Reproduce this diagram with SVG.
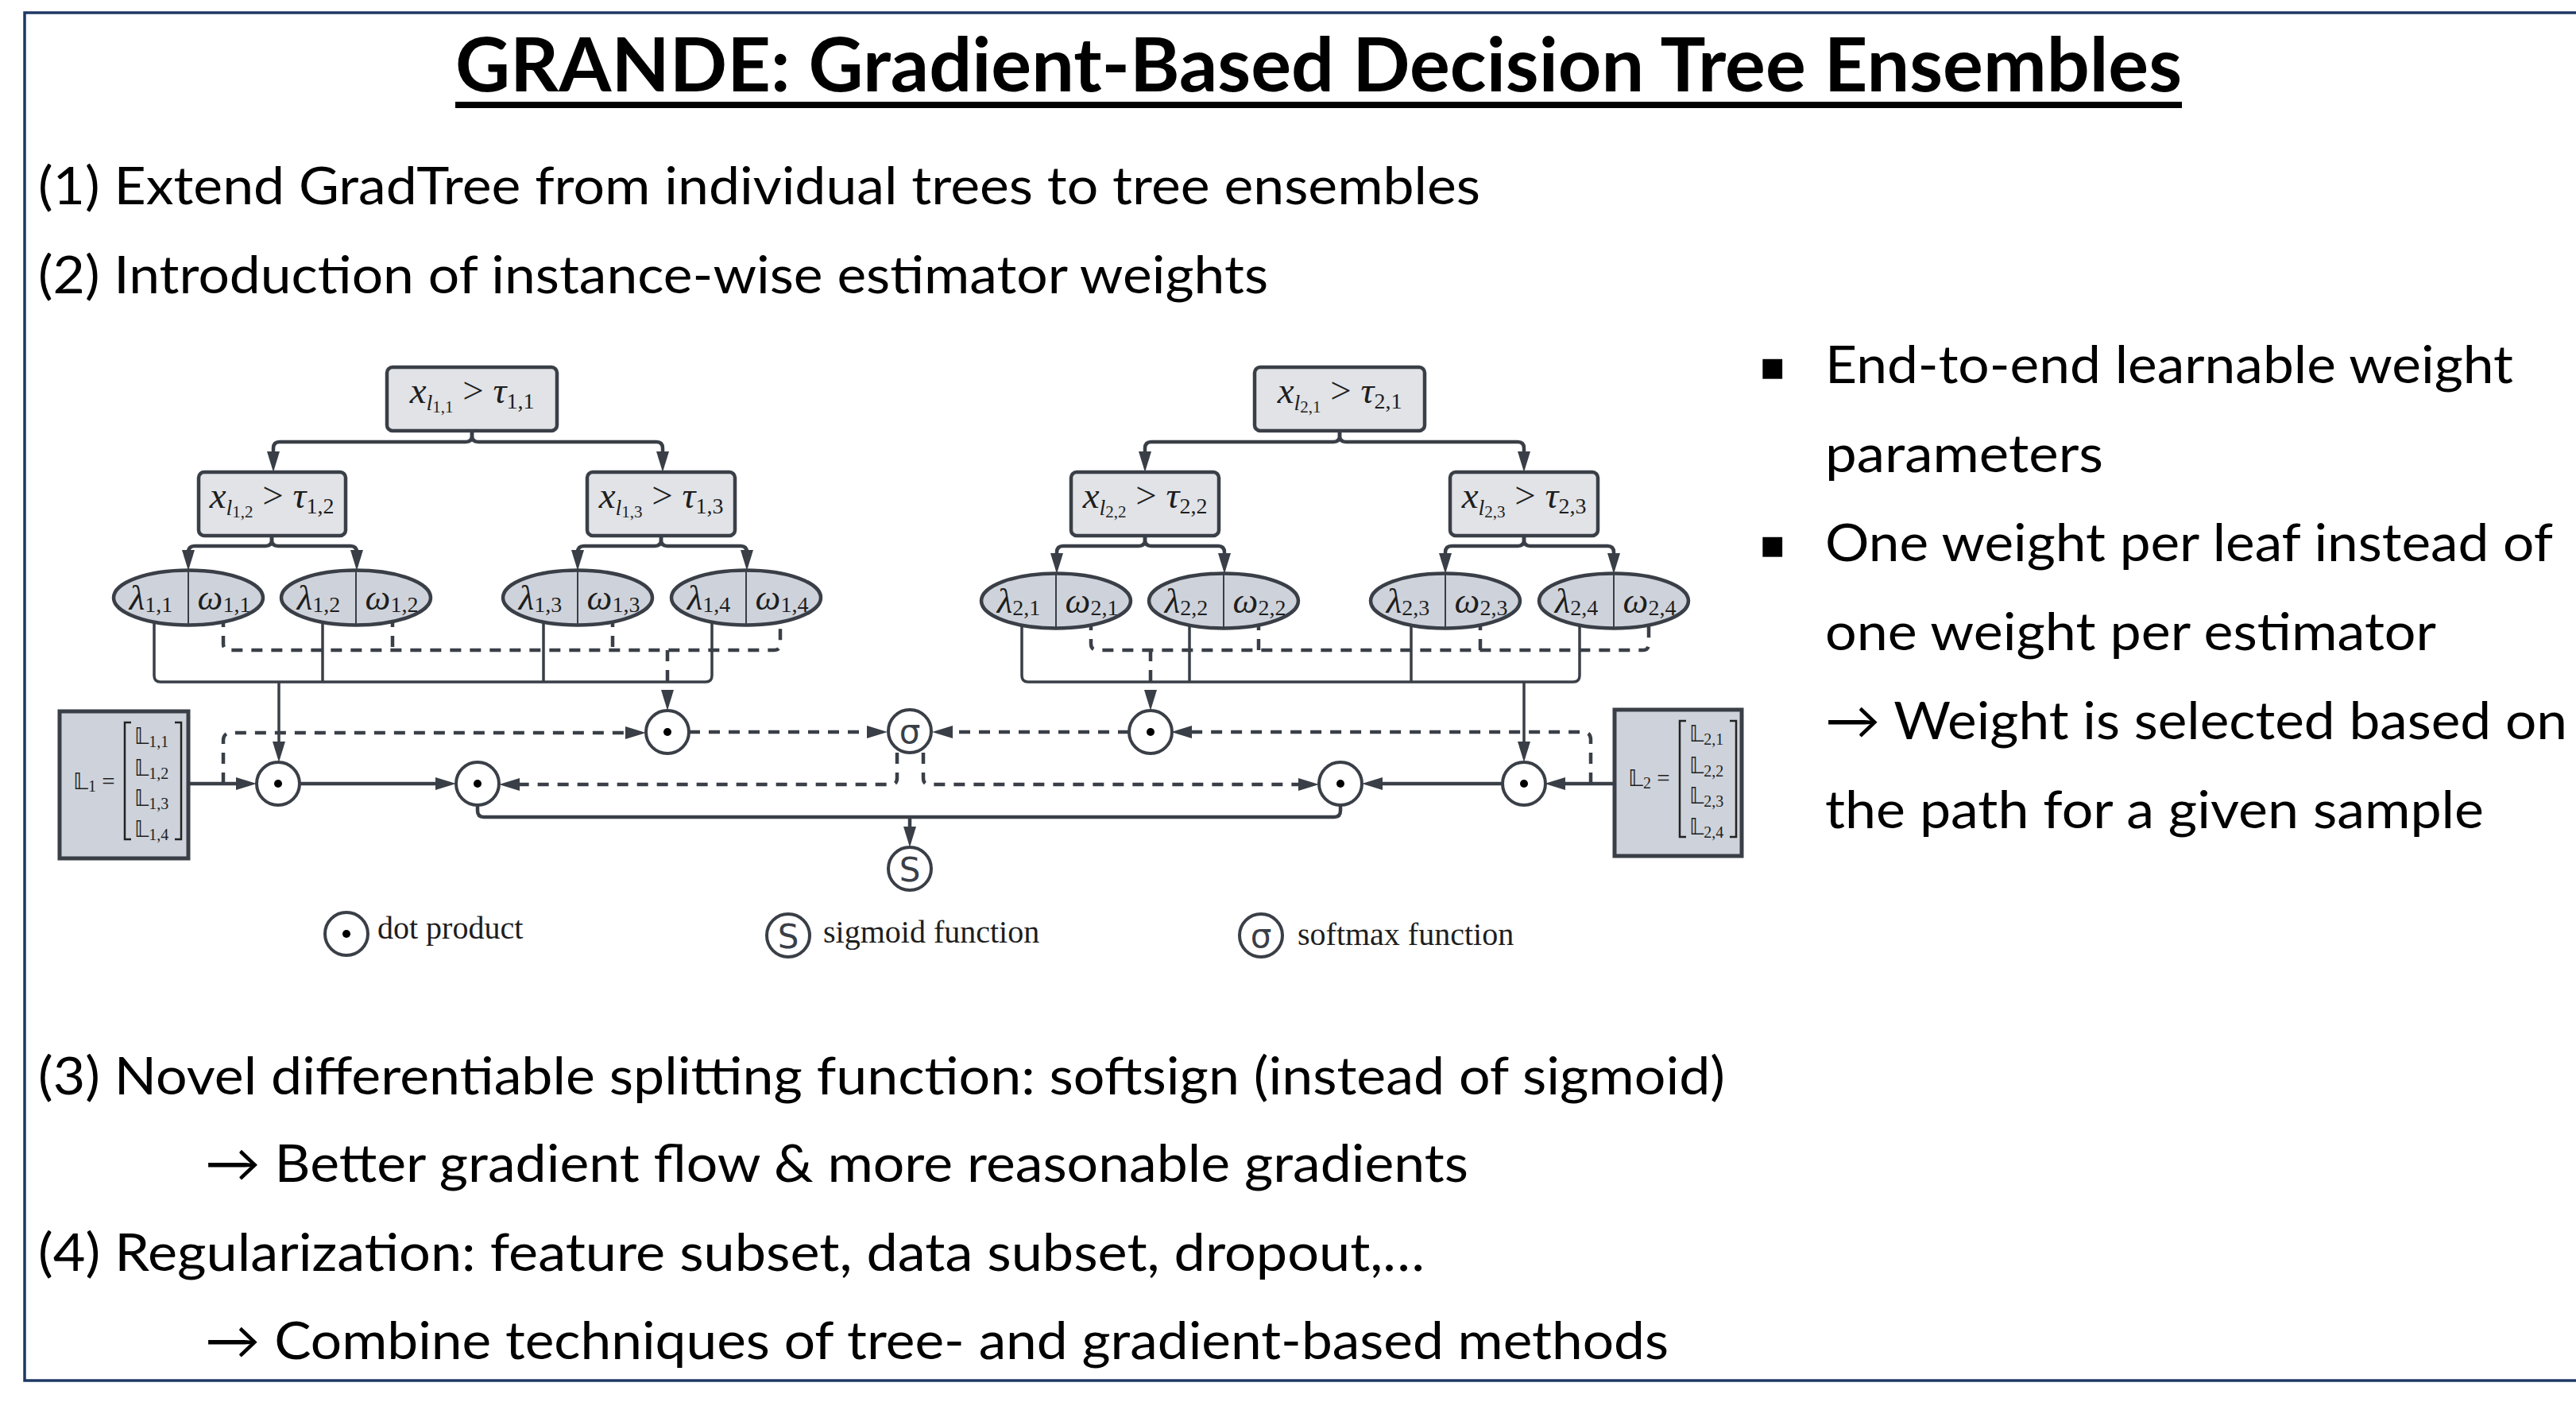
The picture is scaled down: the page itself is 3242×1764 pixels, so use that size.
<svg xmlns="http://www.w3.org/2000/svg" width="3242" height="1764" viewBox="0 0 3242 1764">
<style>
.b{font-family:Lato,"Open Sans","DejaVu Sans",sans-serif;font-size:66px;fill:#000}
.t{font-family:Lato,"Open Sans","DejaVu Sans",sans-serif;font-size:94px;font-weight:700;fill:#000}
.m{font-family:"Liberation Serif","DejaVu Serif",serif;fill:#1e1e1e}
.i{font-style:italic}
.bx{fill:#e1e3e7;stroke:#3a3f47;stroke-width:4.5}
.lf{fill:#ced3db;stroke:#3a3f47;stroke-width:4.5}
.dv{stroke:#3a3f47;stroke-width:2}
.lb{fill:#ced3db;stroke:#3a3f47;stroke-width:5}
.op{fill:#fff;stroke:#3a3f47;stroke-width:4}
.sy{font-family:"DejaVu Sans","Liberation Sans",sans-serif;font-size:42px;fill:#3a3f47}
.ln{fill:none;stroke:#3a3f47;stroke-width:4.5}
.th{fill:none;stroke:#3a3f47;stroke-width:3.5}
.da{fill:none;stroke:#3a3f47;stroke-width:4.5;stroke-dasharray:14 11}
.br{fill:none;stroke:#222;stroke-width:2.5}
.bl{font-family:"DejaVu Sans",sans-serif;font-size:50px;fill:#000}
.dd{font-family:"DejaVu Sans",sans-serif}
</style>
<defs>
<marker id="ah" viewBox="0 0 26 16" refX="16" refY="8" markerWidth="26" markerHeight="16" markerUnits="userSpaceOnUse" orient="auto"><path d="M0,0 L26,8 L0,16 z" fill="#3a3f47"/></marker>
</defs>

<rect x="31" y="16" width="3300" height="1721" fill="none" stroke="#1f3864" stroke-width="3.5"/>

<g id="title">
<text class="t" x="573" y="115" textLength="2173" lengthAdjust="spacingAndGlyphs">GRANDE: Gradient-Based Decision Tree Ensembles</text>
<rect x="573" y="128" width="2173" height="8" fill="#000"/>
</g>

<g id="left-text">
<text class="b" x="48" y="257" textLength="1815" lengthAdjust="spacingAndGlyphs">(1) Extend GradTree from individual trees to tree ensembles</text>
<text class="b" x="48" y="369" textLength="1548" lengthAdjust="spacingAndGlyphs">(2) Introduction of instance-wise estimator weights</text>
<text class="b" x="48" y="1377" textLength="2123" lengthAdjust="spacingAndGlyphs">(3) Novel differentiable splitting function: softsign (instead of sigmoid)</text>
<text class="b" x="258" y="1487" textLength="1590" lengthAdjust="spacingAndGlyphs">→ Better gradient flow &amp; more reasonable gradients</text>
<text class="b" x="48" y="1599" textLength="1745" lengthAdjust="spacingAndGlyphs">(4) Regularization: feature subset, data subset, dropout,…</text>
<text class="b" x="258" y="1710" textLength="1842" lengthAdjust="spacingAndGlyphs">→ Combine techniques of tree- and gradient-based methods</text>
</g>

<g id="right-text">
<text class="bl" x="2214" y="477">▪</text>
<text class="b" x="2297" y="482" textLength="866" lengthAdjust="spacingAndGlyphs">End-to-end learnable weight</text>
<text class="b" x="2297" y="594" textLength="350" lengthAdjust="spacingAndGlyphs">parameters</text>
<text class="bl" x="2214" y="701">▪</text>
<text class="b" x="2297" y="706" textLength="916" lengthAdjust="spacingAndGlyphs">One weight per leaf instead of</text>
<text class="b" x="2297" y="818" textLength="769" lengthAdjust="spacingAndGlyphs">one weight per estimator</text>
<text class="b" x="2297" y="930" textLength="934" lengthAdjust="spacingAndGlyphs">→ Weight is selected based on</text>
<text class="b" x="2297" y="1042" textLength="829" lengthAdjust="spacingAndGlyphs">the path for a given sample</text>
</g>

<g id="connectors">
<path class="ln" marker-end="url(#ah)" d="M594,542 V548 Q594,556 586,556 H352 Q344,556 344,564 V584"/>
<path class="ln" marker-end="url(#ah)" d="M594,542 V548 Q594,556 602,556 H826 Q834,556 834,564 V584"/>
<path class="ln" marker-end="url(#ah)" d="M342,674 V679 Q342,687 334,687 H245 Q237,687 237,695 V708"/>
<path class="ln" marker-end="url(#ah)" d="M342,674 V679 Q342,687 350,687 H441 Q449,687 449,695 V708"/>
<path class="ln" marker-end="url(#ah)" d="M832,674 V679 Q832,687 824,687 H735 Q727,687 727,695 V708"/>
<path class="ln" marker-end="url(#ah)" d="M832,674 V679 Q832,687 840,687 H932 Q940,687 940,695 V708"/>
<path class="ln" marker-end="url(#ah)" d="M1686,542 V548 Q1686,556 1678,556 H1449 Q1441,556 1441,564 V584"/>
<path class="ln" marker-end="url(#ah)" d="M1686,542 V548 Q1686,556 1694,556 H1910 Q1918,556 1918,564 V584"/>
<path class="ln" marker-end="url(#ah)" d="M1441,674 V679 Q1441,687 1433,687 H1338 Q1330,687 1330,695 V712"/>
<path class="ln" marker-end="url(#ah)" d="M1441,674 V679 Q1441,687 1449,687 H1533 Q1541,687 1541,695 V712"/>
<path class="ln" marker-end="url(#ah)" d="M1918,674 V679 Q1918,687 1910,687 H1827 Q1819,687 1819,695 V712"/>
<path class="ln" marker-end="url(#ah)" d="M1918,674 V679 Q1918,687 1926,687 H2023 Q2031,687 2031,695 V712"/>
<path class="th" d="M194,775 V850 Q194,858 202,858 H888 Q896,858 896,850 V775"/>
<path class="th" d="M406,775 V858 M684,775 V858"/>
<path class="th" marker-end="url(#ah)" d="M351,858 V949"/>
<path class="th" d="M1286,779 V850 Q1286,858 1294,858 H1980 Q1988,858 1988,850 V779"/>
<path class="th" d="M1497,779 V858 M1776,779 V858"/>
<path class="th" marker-end="url(#ah)" d="M1918,858 V949"/>
<path class="da" d="M281,775 V810 Q281,818 289,818 H974 Q982,818 982,810 V775"/>
<path class="da" d="M494,775 V818 M771,775 V818"/>
<path class="da" marker-end="url(#ah)" d="M840,818 V884"/>
<path class="da" d="M1373,779 V810 Q1373,818 1381,818 H2067 Q2075,818 2075,810 V779"/>
<path class="da" d="M1584,779 V818 M1863,779 V818"/>
<path class="da" marker-end="url(#ah)" d="M1448,818 V884"/>
<path class="ln" marker-end="url(#ah)" d="M237,986 H313"/>
<path class="da" marker-end="url(#ah)" d="M281,986 V932 Q281,922 291,922 H803"/>
<path class="da" marker-end="url(#ah)" d="M867,921 H1107"/>
<path class="ln" marker-end="url(#ah)" d="M377,986 H564"/>
<path class="da" marker-end="url(#ah)" d="M1129,947 V979 Q1129,987 1121,987 H638"/>
<path class="ln" d="M601,1013 V1020 Q601,1028 609,1028 H1145"/>
<path class="ln" marker-end="url(#ah)" d="M2032,986 H1954"/>
<path class="da" marker-end="url(#ah)" d="M2002,986 V931 Q2002,921 1992,921 H1484"/>
<path class="da" marker-end="url(#ah)" d="M1421,921 H1183"/>
<path class="ln" marker-end="url(#ah)" d="M1891,986 H1724"/>
<path class="da" marker-end="url(#ah)" d="M1162,947 V979 Q1162,987 1170,987 H1650"/>
<path class="ln" d="M1687,1013 V1020 Q1687,1028 1679,1028 H1145"/>
<path class="ln" marker-end="url(#ah)" d="M1145,1028 V1056"/>
</g>

<g id="t1-root"><rect class="bx" x="487" y="462" width="214" height="80" rx="7"/>
<text class="m" x="594" y="507" text-anchor="middle" font-size="47"><tspan class="i">x</tspan><tspan class="i" font-size="28" dy="9">l</tspan><tspan font-size="21" dy="3">1,1</tspan><tspan dy="-12">  &gt; </tspan><tspan class="i">τ</tspan><tspan font-size="28" dy="7">1,1</tspan></text></g>
<g id="t1-n2"><rect class="bx" x="250" y="594" width="185" height="80" rx="7"/>
<text class="m" x="342" y="639" text-anchor="middle" font-size="47"><tspan class="i">x</tspan><tspan class="i" font-size="28" dy="9">l</tspan><tspan font-size="21" dy="3">1,2</tspan><tspan dy="-12"> &gt; </tspan><tspan class="i">τ</tspan><tspan font-size="28" dy="7">1,2</tspan></text></g>
<g id="t1-n3"><rect class="bx" x="739" y="594" width="186" height="80" rx="7"/>
<text class="m" x="832" y="639" text-anchor="middle" font-size="47"><tspan class="i">x</tspan><tspan class="i" font-size="28" dy="9">l</tspan><tspan font-size="21" dy="3">1,3</tspan><tspan dy="-12"> &gt; </tspan><tspan class="i">τ</tspan><tspan font-size="28" dy="7">1,3</tspan></text></g>
<g id="t1-leaf1"><ellipse class="lf" cx="237" cy="752" rx="94" ry="34.5"/><line class="dv" x1="237" y1="718" x2="237" y2="786"/>
<text class="m" x="190" y="767" text-anchor="middle" font-size="45"><tspan class="i">λ</tspan><tspan font-size="28" dy="3">1,1</tspan></text>
<text class="m" x="282" y="767" text-anchor="middle" font-size="45"><tspan class="i">ω</tspan><tspan font-size="28" dy="3">1,1</tspan></text></g>
<g id="t1-leaf2"><ellipse class="lf" cx="448" cy="752" rx="94" ry="34.5"/><line class="dv" x1="448" y1="718" x2="448" y2="786"/>
<text class="m" x="401" y="767" text-anchor="middle" font-size="45"><tspan class="i">λ</tspan><tspan font-size="28" dy="3">1,2</tspan></text>
<text class="m" x="493" y="767" text-anchor="middle" font-size="45"><tspan class="i">ω</tspan><tspan font-size="28" dy="3">1,2</tspan></text></g>
<g id="t1-leaf3"><ellipse class="lf" cx="727" cy="752" rx="94" ry="34.5"/><line class="dv" x1="727" y1="718" x2="727" y2="786"/>
<text class="m" x="680" y="767" text-anchor="middle" font-size="45"><tspan class="i">λ</tspan><tspan font-size="28" dy="3">1,3</tspan></text>
<text class="m" x="772" y="767" text-anchor="middle" font-size="45"><tspan class="i">ω</tspan><tspan font-size="28" dy="3">1,3</tspan></text></g>
<g id="t1-leaf4"><ellipse class="lf" cx="939" cy="752" rx="94" ry="34.5"/><line class="dv" x1="939" y1="718" x2="939" y2="786"/>
<text class="m" x="892" y="767" text-anchor="middle" font-size="45"><tspan class="i">λ</tspan><tspan font-size="28" dy="3">1,4</tspan></text>
<text class="m" x="984" y="767" text-anchor="middle" font-size="45"><tspan class="i">ω</tspan><tspan font-size="28" dy="3">1,4</tspan></text></g>

<g id="t2-root"><rect class="bx" x="1579" y="462" width="214" height="80" rx="7"/>
<text class="m" x="1686" y="507" text-anchor="middle" font-size="47"><tspan class="i">x</tspan><tspan class="i" font-size="28" dy="9">l</tspan><tspan font-size="21" dy="3">2,1</tspan><tspan dy="-12">  &gt; </tspan><tspan class="i">τ</tspan><tspan font-size="28" dy="7">2,1</tspan></text></g>
<g id="t2-n2"><rect class="bx" x="1348" y="594" width="186" height="80" rx="7"/>
<text class="m" x="1441" y="639" text-anchor="middle" font-size="47"><tspan class="i">x</tspan><tspan class="i" font-size="28" dy="9">l</tspan><tspan font-size="21" dy="3">2,2</tspan><tspan dy="-12"> &gt; </tspan><tspan class="i">τ</tspan><tspan font-size="28" dy="7">2,2</tspan></text></g>
<g id="t2-n3"><rect class="bx" x="1825" y="594" width="186" height="80" rx="7"/>
<text class="m" x="1918" y="639" text-anchor="middle" font-size="47"><tspan class="i">x</tspan><tspan class="i" font-size="28" dy="9">l</tspan><tspan font-size="21" dy="3">2,3</tspan><tspan dy="-12"> &gt; </tspan><tspan class="i">τ</tspan><tspan font-size="28" dy="7">2,3</tspan></text></g>
<g id="t2-leaf1"><ellipse class="lf" cx="1329" cy="756" rx="94" ry="34.5"/><line class="dv" x1="1329" y1="722" x2="1329" y2="790"/>
<text class="m" x="1282" y="771" text-anchor="middle" font-size="45"><tspan class="i">λ</tspan><tspan font-size="28" dy="3">2,1</tspan></text>
<text class="m" x="1374" y="771" text-anchor="middle" font-size="45"><tspan class="i">ω</tspan><tspan font-size="28" dy="3">2,1</tspan></text></g>
<g id="t2-leaf2"><ellipse class="lf" cx="1540" cy="756" rx="94" ry="34.5"/><line class="dv" x1="1540" y1="722" x2="1540" y2="790"/>
<text class="m" x="1493" y="771" text-anchor="middle" font-size="45"><tspan class="i">λ</tspan><tspan font-size="28" dy="3">2,2</tspan></text>
<text class="m" x="1585" y="771" text-anchor="middle" font-size="45"><tspan class="i">ω</tspan><tspan font-size="28" dy="3">2,2</tspan></text></g>
<g id="t2-leaf3"><ellipse class="lf" cx="1819" cy="756" rx="94" ry="34.5"/><line class="dv" x1="1819" y1="722" x2="1819" y2="790"/>
<text class="m" x="1772" y="771" text-anchor="middle" font-size="45"><tspan class="i">λ</tspan><tspan font-size="28" dy="3">2,3</tspan></text>
<text class="m" x="1864" y="771" text-anchor="middle" font-size="45"><tspan class="i">ω</tspan><tspan font-size="28" dy="3">2,3</tspan></text></g>
<g id="t2-leaf4"><ellipse class="lf" cx="2031" cy="756" rx="94" ry="34.5"/><line class="dv" x1="2031" y1="722" x2="2031" y2="790"/>
<text class="m" x="1984" y="771" text-anchor="middle" font-size="45"><tspan class="i">λ</tspan><tspan font-size="28" dy="3">2,4</tspan></text>
<text class="m" x="2076" y="771" text-anchor="middle" font-size="45"><tspan class="i">ω</tspan><tspan font-size="28" dy="3">2,4</tspan></text></g>

<g id="L1" transform="translate(75,895)">
<rect class="lb" x="0" y="0" width="162" height="185"/>
<text class="m" x="17" y="98" font-size="29"><tspan class="dd">𝕃</tspan><tspan font-size="20" dy="3">1</tspan><tspan dy="-3" font-size="29"> = </tspan></text>
<path class="br" d="M90,14 H82 V161 H90 M145,14 H153 V161 H145"/>
<text class="m" x="94" y="41" font-size="28"><tspan class="dd">𝕃</tspan><tspan font-size="20" dy="4">1,1</tspan></text>
<text class="m" x="94" y="81" font-size="28"><tspan class="dd">𝕃</tspan><tspan font-size="20" dy="4">1,2</tspan></text>
<text class="m" x="94" y="119" font-size="28"><tspan class="dd">𝕃</tspan><tspan font-size="20" dy="4">1,3</tspan></text>
<text class="m" x="94" y="158" font-size="28"><tspan class="dd">𝕃</tspan><tspan font-size="20" dy="4">1,4</tspan></text>
</g>
<g id="L2" transform="translate(2032,893)">
<rect class="lb" x="0" y="0" width="160" height="184"/>
<text class="m" x="17" y="96" font-size="29"><tspan class="dd">𝕃</tspan><tspan font-size="20" dy="3">2</tspan><tspan dy="-3" font-size="29"> = </tspan></text>
<path class="br" d="M90,14 H82 V160 H90 M145,14 H153 V160 H145"/>
<text class="m" x="94" y="40" font-size="28"><tspan class="dd">𝕃</tspan><tspan font-size="20" dy="4">2,1</tspan></text>
<text class="m" x="94" y="80" font-size="28"><tspan class="dd">𝕃</tspan><tspan font-size="20" dy="4">2,2</tspan></text>
<text class="m" x="94" y="118" font-size="28"><tspan class="dd">𝕃</tspan><tspan font-size="20" dy="4">2,3</tspan></text>
<text class="m" x="94" y="157" font-size="28"><tspan class="dd">𝕃</tspan><tspan font-size="20" dy="4">2,4</tspan></text>
</g>

<g id="dot1"><circle class="op" cx="350" cy="986" r="27"/><circle cx="350" cy="986" r="5" fill="#000"/></g>
<g id="dot2"><circle class="op" cx="840" cy="921" r="27"/><circle cx="840" cy="921" r="5" fill="#000"/></g>
<g id="dot3"><circle class="op" cx="601" cy="986" r="27"/><circle cx="601" cy="986" r="5" fill="#000"/></g>
<g id="dot4"><circle class="op" cx="1918" cy="986" r="27"/><circle cx="1918" cy="986" r="5" fill="#000"/></g>
<g id="dot5"><circle class="op" cx="1448" cy="921" r="27"/><circle cx="1448" cy="921" r="5" fill="#000"/></g>
<g id="dot6"><circle class="op" cx="1687" cy="986" r="27"/><circle cx="1687" cy="986" r="5" fill="#000"/></g>
<g id="softmax"><circle class="op" cx="1145" cy="920" r="27"/><text class="sy" x="1145" y="935" text-anchor="middle">σ</text></g>
<g id="sigmoid"><circle class="op" cx="1145" cy="1093" r="27"/><text class="sy" x="1145" y="1109" text-anchor="middle">S</text></g>

<g id="legend-dot"><circle class="op" cx="436" cy="1175" r="27"/><circle cx="436" cy="1175" r="5" fill="#000"/>
<text class="m" x="475" y="1181" font-size="40" fill="#000">dot product</text></g>
<g id="legend-sigmoid"><circle class="op" cx="992" cy="1177" r="27"/><text class="sy" x="992" y="1193" text-anchor="middle">S</text>
<text class="m" x="1036" y="1186" font-size="40">sigmoid function</text></g>
<g id="legend-softmax"><circle class="op" cx="1587" cy="1177" r="27"/><text class="sy" x="1587" y="1192" text-anchor="middle">σ</text>
<text class="m" x="1633" y="1189" font-size="40">softmax function</text></g>
</svg>
